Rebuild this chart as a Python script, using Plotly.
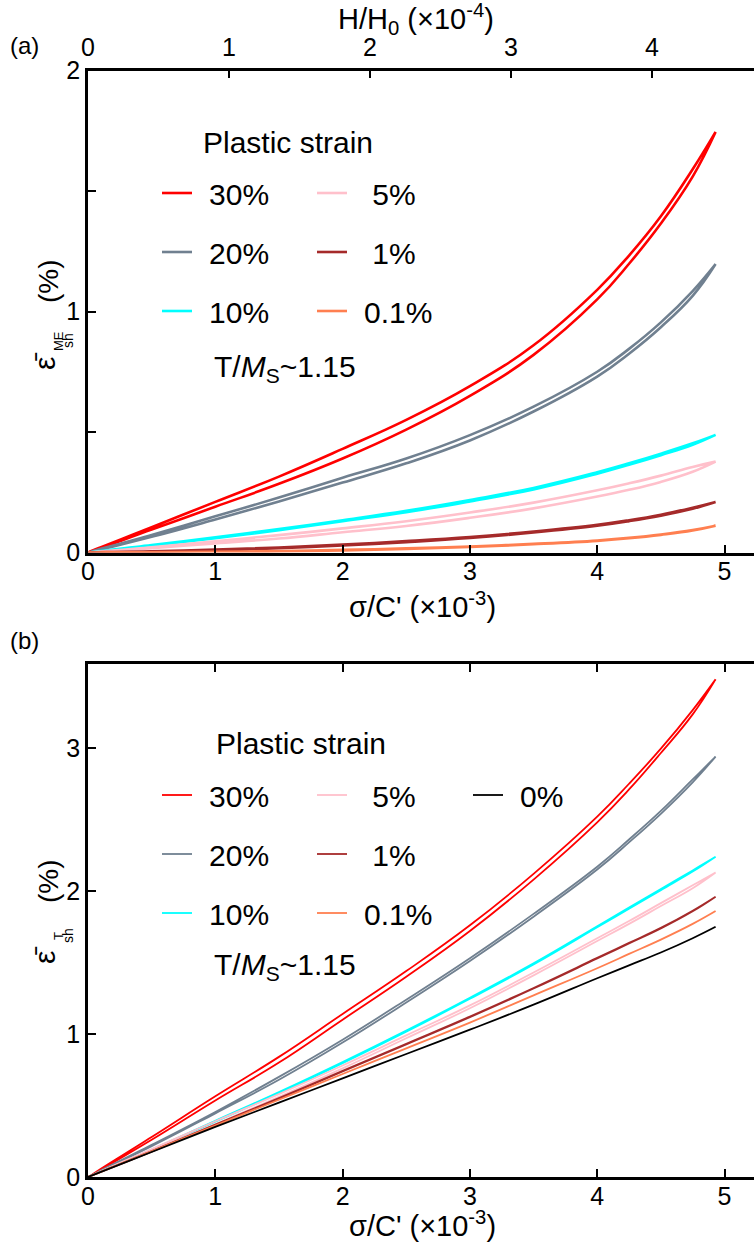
import plotly.graph_objects as go

W, H = 754, 1249
def px(x): return x / W
def py(y): return 1 - y / H

# ---------------- data ----------------
sigma = [0, 0.5, 1.0, 1.5, 2.0, 2.5, 3.0, 3.5, 4.0, 4.25, 4.5, 4.75, 4.93]

# panel (a): magnetoelastic strain, upper (up) and lower (lo) branches of each loop
a30_up = [0, 0.105, 0.21, 0.315, 0.43, 0.55, 0.69, 0.86, 1.09, 1.232, 1.395, 1.59, 1.745]
a30_lo = [0, 0.095, 0.19, 0.285, 0.39, 0.51, 0.65, 0.82, 1.05, 1.198, 1.365, 1.56, 1.745]
a20_up = [0, 0.073, 0.15, 0.228, 0.31, 0.39, 0.487, 0.605, 0.75, 0.845, 0.955, 1.085, 1.197]
a20_lo = [0, 0.065, 0.137, 0.212, 0.29, 0.37, 0.465, 0.585, 0.73, 0.825, 0.935, 1.065, 1.197]
a10_up = [0, 0.031, 0.063, 0.097, 0.134, 0.173, 0.218, 0.268, 0.333, 0.370, 0.410, 0.453, 0.488]
a10_lo = [0, 0.029, 0.059, 0.093, 0.130, 0.167, 0.212, 0.262, 0.327, 0.364, 0.404, 0.447, 0.488]
a5_up = [0, 0.022, 0.047, 0.072, 0.100, 0.130, 0.166, 0.207, 0.258, 0.287, 0.319, 0.355, 0.377]
a5_lo = [0, 0.018, 0.038, 0.058, 0.084, 0.110, 0.144, 0.183, 0.232, 0.260, 0.293, 0.335, 0.377]
a1_up = [0, 0.005, 0.012, 0.021, 0.033, 0.047, 0.064, 0.087, 0.115, 0.134, 0.157, 0.186, 0.21]
a1_lo = [0, 0.003, 0.009, 0.018, 0.029, 0.043, 0.060, 0.083, 0.111, 0.130, 0.153, 0.182, 0.21]
a01_up = [0, 0.001, 0.003, 0.006, 0.011, 0.017, 0.025, 0.036, 0.050, 0.061, 0.075, 0.093, 0.111]
a01_lo = [0, 0.0, 0.001, 0.004, 0.009, 0.015, 0.023, 0.034, 0.048, 0.059, 0.073, 0.091, 0.111]

# panel (b): total strain
b30_up = [0, 0.28, 0.565, 0.84, 1.14, 1.44, 1.76, 2.12, 2.52, 2.75, 2.995, 3.265, 3.48]
b30_lo = [0, 0.26, 0.535, 0.80, 1.10, 1.40, 1.72, 2.08, 2.48, 2.71, 2.965, 3.235, 3.48]
b20_up = [0, 0.225, 0.455, 0.70, 0.96, 1.24, 1.53, 1.84, 2.17, 2.36, 2.56, 2.78, 2.94]
b20_lo = [0, 0.215, 0.445, 0.68, 0.94, 1.22, 1.51, 1.82, 2.15, 2.34, 2.54, 2.76, 2.94]
b10_up = [0, 0.192, 0.393, 0.594, 0.804, 1.024, 1.254, 1.494, 1.754, 1.884, 2.014, 2.144, 2.24]
b10_lo = [0, 0.188, 0.387, 0.586, 0.796, 1.016, 1.246, 1.486, 1.746, 1.876, 2.006, 2.136, 2.24]
b5_up = [0, 0.195, 0.39, 0.58, 0.78, 0.99, 1.20, 1.43, 1.67, 1.79, 1.915, 2.04, 2.13]
b5_lo = [0, 0.185, 0.37, 0.56, 0.76, 0.97, 1.18, 1.41, 1.65, 1.77, 1.895, 2.02, 2.13]
b1_up = [0, 0.182, 0.367, 0.552, 0.742, 0.932, 1.122, 1.322, 1.532, 1.637, 1.742, 1.862, 1.96]
b1_lo = [0, 0.178, 0.363, 0.548, 0.738, 0.928, 1.118, 1.318, 1.528, 1.633, 1.738, 1.858, 1.96]
b01_up = [0, 0.18, 0.36, 0.54, 0.72, 0.90, 1.08, 1.27, 1.46, 1.56, 1.66, 1.77, 1.86]
b01_lo = [0, 0.18, 0.36, 0.54, 0.72, 0.90, 1.08, 1.27, 1.46, 1.56, 1.66, 1.77, 1.86]
b0_up = [0, 0.175, 0.35, 0.52, 0.69, 0.86, 1.03, 1.205, 1.39, 1.48, 1.57, 1.67, 1.75]
b0_lo = [0, 0.175, 0.35, 0.52, 0.69, 0.86, 1.03, 1.205, 1.39, 1.48, 1.57, 1.67, 1.75]

x_ticks = [0, 1, 2, 3, 4, 5]
h_ticks = [0, 1, 2, 3, 4]
ya_ticks = [0, 0.5, 1, 1.5, 2]
ya_text = ["0", "", "1", "", "2"]
yb_ticks = [0, 1, 2, 3]

colors = {"30%": "#ff0000", "20%": "#708090", "10%": "#00ffff",
          "5%": "#ffc0cb", "1%": "#a52a2a", "0.1%": "#ff7f50", "0%": "#000000"}

TS = "\u2009\u2009"
labels = {"30%": TS + "30%", "20%": TS + "20%", "10%": TS + "10%",
          "5%": TS + "\u00a05%", "1%": TS + "\u00a01%", "0.1%": TS + "0.1%", "0%": TS + "0%"}

series_a = [("30%", a30_up, a30_lo, "legend"), ("20%", a20_up, a20_lo, "legend"),
            ("10%", a10_up, a10_lo, "legend"), ("5%", a5_up, a5_lo, "legend2"),
            ("1%", a1_up, a1_lo, "legend2"), ("0.1%", a01_up, a01_lo, "legend2")]
series_b = [("30%", b30_up, b30_lo, "legend4"), ("20%", b20_up, b20_lo, "legend4"),
            ("10%", b10_up, b10_lo, "legend4"), ("5%", b5_up, b5_lo, "legend5"),
            ("1%", b1_up, b1_lo, "legend5"), ("0.1%", b01_up, b01_lo, "legend5"),
            ("0%", b0_up, b0_lo, "legend6")]

fig = go.Figure()

def add_loop(name, up, lo, leg, xa, ya, width):
    xs = sigma + sigma[::-1]
    ys = lo + up[::-1]
    fig.add_trace(go.Scatter(
        x=xs, y=ys, mode="lines", name=labels[name],
        line=dict(color=colors[name], width=width, shape="spline", smoothing=1.2),
        xaxis=xa, yaxis=ya, legend=leg, legendgroup=leg + name))

for s in series_a:
    add_loop(*s, "x", "y", 2.6)
for s in series_b:
    add_loop(*s, "x2", "y2", 1.8)

# empty trace so the top H/H0 axis is drawn
fig.add_trace(go.Scatter(x=[], y=[], xaxis="x3", yaxis="y", showlegend=False))

TICKFONT = dict(family="Liberation Sans Narrow, Arial Narrow, Liberation Sans", size=25, color="black")
TITLEFONT = dict(family="Liberation Sans Narrow, Arial Narrow, Liberation Sans", size=29, color="black")
axis_common = dict(showline=True, linewidth=2.5, linecolor="black", ticks="inside",
                   ticklen=8, tickwidth=2, tickcolor="black", showgrid=False,
                   zeroline=False, tickfont=TICKFONT, automargin=False)

xr = [0, (W - 88) / 127.3]
hr = [0, (W - 88) / 141.0]

fig.update_layout(
    width=W, height=H, margin=dict(l=0, r=0, t=0, b=0, autoexpand=False),
    plot_bgcolor="white", paper_bgcolor="white",
    font=dict(family="Liberation Sans, Arial", color="black"),
    xaxis=dict(domain=[px(88), 1], anchor="y", range=xr, tickvals=x_ticks,
               ticklabelstandoff=-5, **axis_common),
    yaxis=dict(domain=[py(552.5), py(70.5)], anchor="x", range=[0, 2],
               tickvals=ya_ticks, ticktext=ya_text, **axis_common),
    xaxis3=dict(overlaying="x", anchor="y", side="top", range=hr, tickvals=h_ticks,
                ticklabelstandoff=2, **axis_common),
    xaxis2=dict(domain=[px(88), 1], anchor="y2", range=xr, tickvals=x_ticks, mirror="ticks",
                ticklabelstandoff=-5, **axis_common),
    yaxis2=dict(domain=[py(1177), py(664)], anchor="x2", range=[0, (1177 - 664) / 143.0],
                tickvals=yb_ticks, **axis_common),
)

LEGFONT = dict(family="Liberation Sans, Arial", size=30, color="black")
def leg(xpix, ypix):
    return dict(x=px(xpix), y=py(ypix), xanchor="left", yanchor="top",
                bgcolor="rgba(0,0,0,0)", borderwidth=0, font=LEGFONT,
                tracegroupgap=17, itemclick=False, traceorder="grouped")

fig.update_layout(
    legend=leg(157, 167), legend2=leg(312, 167), legend3=leg(468, 167),
    legend4=leg(157, 769), legend5=leg(312, 769), legend6=leg(468, 769),
)

ann_font = dict(family="Liberation Sans, Arial", size=30, color="black")
title_font = TITLEFONT
anns = [
    dict(text="(a)", x=px(24), y=py(45), font=dict(family="Liberation Sans", size=24)),
    dict(text="(b)", x=px(24), y=py(640), font=dict(family="Liberation Sans", size=24)),
    dict(text="H/H<sub>0</sub> (×10<sup>-4</sup>)", x=px(416), y=py(19), font=title_font),
    dict(text="σ/C' (×10<sup>-3</sup>)", x=px(422), y=py(605), font=title_font),
    dict(text="σ/C' (×10<sup>-3</sup>)", x=px(422), y=py(1224), font=title_font),
    dict(text="Plastic strain", x=px(288), y=py(143), font=ann_font),
    dict(text="Plastic strain", x=px(301), y=py(743), font=ann_font),
    dict(text="T/<i>M</i><sub>S</sub>~1.15", x=px(285), y=py(368), font=ann_font),
    dict(text="T/<i>M</i><sub>S</sub>~1.15", x=px(285), y=py(966), font=ann_font),
    # y title (a)
    dict(text="ε\u0304", x=px(44), y=py(361), textangle=-90, font=dict(family="Liberation Sans", size=30)),
    dict(text="ME", x=px(58), y=py(341), textangle=-90, font=dict(family="Liberation Sans", size=13)),
    dict(text="sh", x=px(68), y=py(341), textangle=-90, font=dict(family="Liberation Sans", size=14)),
    dict(text="(%)", x=px(48), y=py(281), textangle=-90, font=dict(family="Liberation Sans", size=28)),
    # y title (b)
    dict(text="ε\u0304", x=px(44), y=py(955), textangle=-90, font=dict(family="Liberation Sans", size=30)),
    dict(text="T", x=px(58), y=py(936), textangle=-90, font=dict(family="Liberation Sans", size=13)),
    dict(text="sh", x=px(68), y=py(936), textangle=-90, font=dict(family="Liberation Sans", size=14)),
    dict(text="(%)", x=px(48), y=py(881), textangle=-90, font=dict(family="Liberation Sans", size=28)),
]
for a in anns:
    a.update(xref="paper", yref="paper", showarrow=False, xanchor="center", yanchor="middle")
fig.update_layout(annotations=anns)

fig.write_html("out.html")
